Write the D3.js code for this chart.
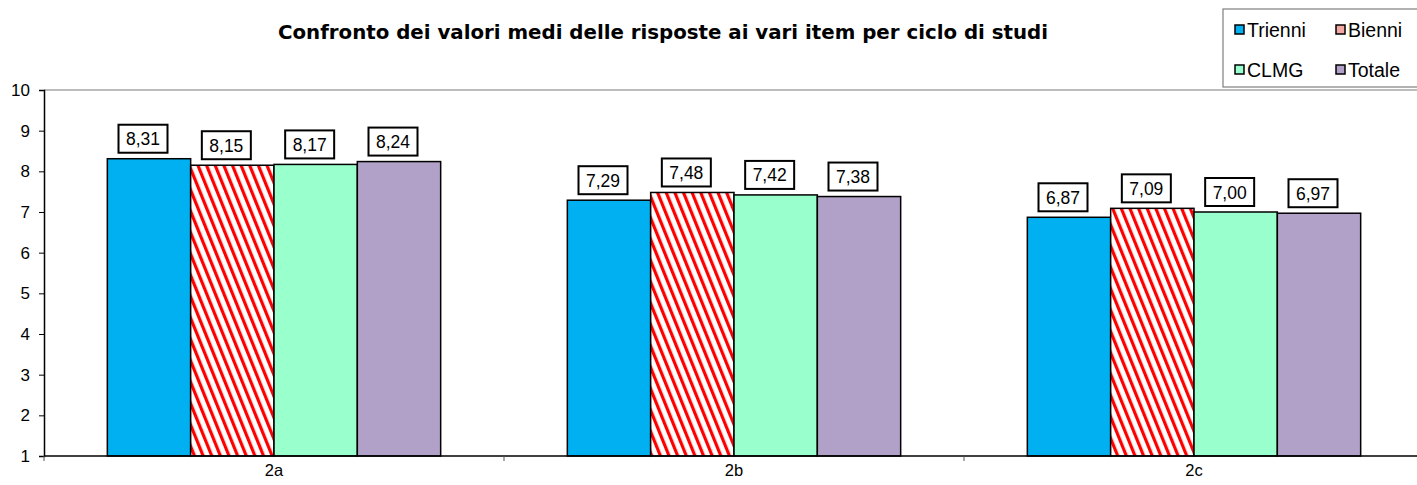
<!DOCTYPE html>
<html><head><meta charset="utf-8">
<script src="https://cdn.jsdelivr.net/npm/d3@7"></script>
<style>body{margin:0;background:#fff}svg{display:block}svg text{font-family:'Liberation Sans', Arial, sans-serif}</style>
</head><body>
<script>
const categories = ["2a", "2b", "2c"];
const seriesNames = ["Trienni", "Bienni", "CLMG", "Totale"];
const trienni = [8.31, 7.29, 6.87];
const bienni = [8.15, 7.48, 7.09];
const clmg = [8.17, 7.42, 7.00];
const totale = [8.24, 7.38, 6.97];
const yTicks = [1, 2, 3, 4, 5, 6, 7, 8, 9, 10];
const titleText = "Confronto dei valori medi delle risposte ai vari item per ciclo di studi";

const seriesValues = [trienni, bienni, clmg, totale];
const fills = ["#00B0F0", "url(#stripes)", "#99FFCC", "#B1A0C7"];
const legendFills = ["#00B0F0", "#F4A7A3", "#99FFCC", "#B1A0C7"];
const FONT = "'Liberation Sans', Arial, sans-serif";

const W = 1417, H = 485;
const svg = d3.select("body").append("svg").attr("width", W).attr("height", H);

const defs = svg.append("defs");
const pat = defs.append("pattern").attr("id", "stripes").attr("patternUnits", "userSpaceOnUse")
  .attr("width", 8).attr("height", 8).attr("patternTransform", "rotate(-22)");
pat.append("rect").attr("width", 8).attr("height", 8).attr("fill", "#fff");
pat.append("rect").attr("width", 3.2).attr("height", 8).attr("fill", "#FF0000");

const mLeft = 44, plotRight = 1424, mTop = 90, mBottom = 456;
const y = d3.scaleLinear().domain([1, 10]).range([mBottom, mTop]);
const x0 = d3.scaleBand().domain(categories).range([mLeft, plotRight]).padding(0);
const x1 = d3.scaleBand().domain(seriesNames).range([0, x0.bandwidth()]).paddingInner(0).paddingOuter(0.76);

// top border line of plot
svg.append("line").attr("x1", mLeft).attr("x2", W).attr("y1", y(10)).attr("y2", y(10))
  .attr("stroke", "#A6A6A6").attr("stroke-width", 1.5);

// bars
categories.forEach((c, ci) => {
  seriesNames.forEach((s, si) => {
    const v = seriesValues[si][ci];
    svg.append("rect")
      .attr("x", x0(c) + x1(s)).attr("y", y(v))
      .attr("width", x1.bandwidth()).attr("height", y(1) - y(v))
      .attr("fill", fills[si]).attr("stroke", "#000").attr("stroke-width", 1.5);
  });
});

// labels
categories.forEach((c, ci) => {
  seriesNames.forEach((s, si) => {
    const v = seriesValues[si][ci];
    const cx = x0(c) + x1(s) + x1.bandwidth() / 2 - 6;
    const bw = 49, bh = 28;
    const by = y(v) - 6 - bh;
    svg.append("rect").attr("x", cx - bw / 2).attr("y", by).attr("width", bw).attr("height", bh)
      .attr("fill", "#fff").attr("stroke", "#000").attr("stroke-width", 2);
    svg.append("text").attr("x", cx).attr("y", by + bh / 2 + 6.5).attr("text-anchor", "middle")
      .attr("font-size", 17.5).style("font-family", FONT).text(d3.format(".2f")(v).replace(".", ","));
  });
});

// y axis
const yAxis = svg.append("g").attr("transform", `translate(${mLeft},0)`)
  .call(d3.axisLeft(y).tickValues(yTicks).tickSize(5).tickPadding(9).tickFormat(d3.format("d")));
yAxis.select(".domain").attr("stroke", "#000").attr("stroke-width", 1.5);
yAxis.selectAll(".tick line").attr("stroke", "#000");
yAxis.selectAll("text").attr("font-size", 17).attr("fill", "#000").style("font-family", FONT);

// x axis
const xAxis = svg.append("g").attr("transform", `translate(0,${mBottom})`)
  .call(d3.axisBottom(x0).tickSize(0).tickPadding(8));
xAxis.select(".domain").remove();
xAxis.selectAll("text").attr("font-size", 16.5).attr("fill", "#000").style("font-family", FONT);
svg.append("line").attr("x1", mLeft).attr("x2", W).attr("y1", mBottom).attr("y2", mBottom)
  .attr("stroke", "#000").attr("stroke-width", 1.5);
const sepTicks = categories.map(c => x0(c));
svg.selectAll(".sep").data(sepTicks).enter().append("line")
  .attr("x1", d => d).attr("x2", d => d).attr("y1", mBottom).attr("y2", mBottom + 5)
  .attr("stroke", "#555").attr("stroke-width", 1);

// title
svg.append("text").attr("x", 663).attr("y", 39).attr("text-anchor", "middle")
  .attr("font-size", 20).attr("font-weight", "bold")
  .attr("textLength", 770).attr("lengthAdjust", "spacingAndGlyphs")
  .style("font-family", "'Comic Sans MS', 'DejaVu Sans', sans-serif")
  .text(titleText);

// legend
const lg = svg.append("g");
lg.append("rect").attr("x", 1223).attr("y", 9).attr("width", 200).attr("height", 78)
  .attr("fill", "#fff").attr("stroke", "#7F7F7F").attr("stroke-width", 1.2);
seriesNames.forEach((s, i) => {
  const col = i % 2, row = Math.floor(i / 2);
  const gx = 1235 + col * 101, gy = 30 + row * 40;
  lg.append("rect").attr("x", gx).attr("y", gy - 5).attr("width", 9).attr("height", 9)
    .attr("fill", legendFills[i]).attr("stroke", "#000").attr("stroke-width", 1.5);
  lg.append("text").attr("x", gx + 12).attr("y", gy + 7).attr("font-size", 19.5)
    .style("font-family", FONT).text(s);
});
</script>
</body></html>
